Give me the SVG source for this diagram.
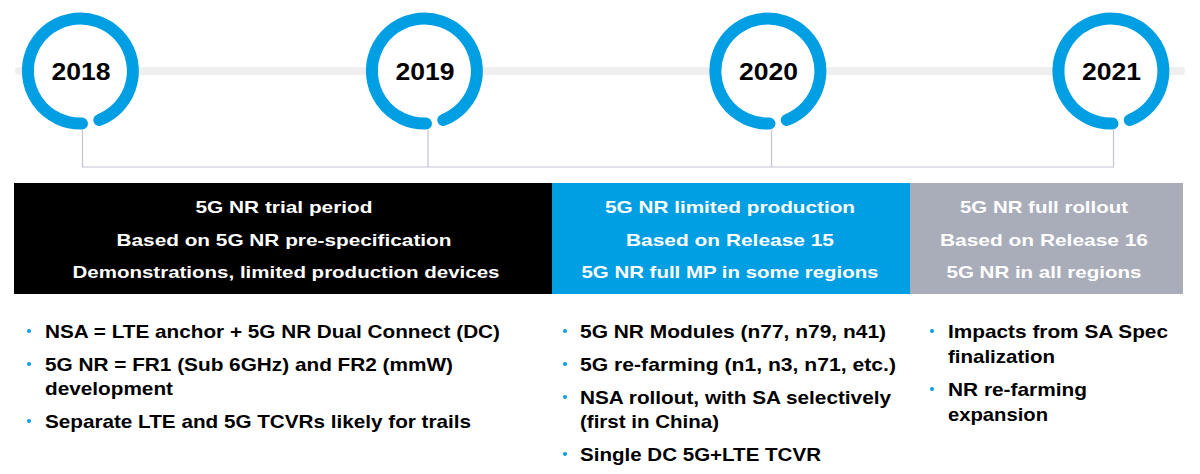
<svg xmlns="http://www.w3.org/2000/svg" xmlns:xlink="http://www.w3.org/1999/xlink" width="1200" height="474" viewBox="0 0 1200 474">
<style>
.ring{fill:none;stroke:#009FE3;stroke-width:12;stroke-linecap:round}
.year{font-family:"Liberation Sans",Arial,sans-serif;font-weight:bold;font-size:24px;fill:#000;text-anchor:middle}
.conn{fill:none;stroke:#C4C4D4;stroke-width:1.2}
.hdr{font-family:"Liberation Sans",Arial,sans-serif;font-weight:bold;font-size:17px;fill:#fff;text-anchor:middle}
.bt{font-family:"Liberation Sans",Arial,sans-serif;font-weight:bold;font-size:19px;fill:#000}
.dot{fill:#009FE3}
</style>
<defs>
<path id="ringp" class="ring" d="M 18.8 49 A 52.5 52.5 0 1 0 1.5 52.5"/>
</defs>
<rect x="15" y="67" width="1170" height="8" rx="4" fill="#EFEFEF"/>
<g id="connectors">
<path class="conn" d="M82.5 130 V167 H1113.5 V130"/>
<path class="conn" d="M428 130 V167"/>
<path class="conn" d="M771.5 130 V167"/>
</g>
<g id="y2018"><circle cx="80.5" cy="71" r="52" fill="#fff"/><use xlink:href="#ringp" x="80.5" y="71"/><text class="year" x="81" y="80" textLength="59" lengthAdjust="spacingAndGlyphs">2018</text></g>
<g id="y2019"><circle cx="424.5" cy="71" r="52" fill="#fff"/><use xlink:href="#ringp" x="424.5" y="71"/><text class="year" x="425" y="80" textLength="59" lengthAdjust="spacingAndGlyphs">2019</text></g>
<g id="y2020"><circle cx="768" cy="71" r="52" fill="#fff"/><use xlink:href="#ringp" x="768" y="71"/><text class="year" x="768.5" y="80" textLength="59" lengthAdjust="spacingAndGlyphs">2020</text></g>
<g id="y2021"><circle cx="1111" cy="71" r="52" fill="#fff"/><use xlink:href="#ringp" x="1111" y="71"/><text class="year" x="1111.5" y="80" textLength="59" lengthAdjust="spacingAndGlyphs">2021</text></g>
<g id="phase1">
<rect x="14" y="183" width="538" height="111" fill="#000"/>
<text class="hdr" x="284" y="213" textLength="177" lengthAdjust="spacingAndGlyphs">5G NR trial period</text>
<text class="hdr" x="284" y="246" textLength="335" lengthAdjust="spacingAndGlyphs">Based on 5G NR pre-specification</text>
<text class="hdr" x="286" y="278" textLength="427" lengthAdjust="spacingAndGlyphs">Demonstrations, limited production devices</text>
</g>
<g id="phase2">
<rect x="552" y="183" width="358" height="111" fill="#009FE3"/>
<text class="hdr" x="730" y="213" textLength="250" lengthAdjust="spacingAndGlyphs">5G NR limited production</text>
<text class="hdr" x="730" y="246" textLength="208" lengthAdjust="spacingAndGlyphs">Based on Release 15</text>
<text class="hdr" x="730" y="278" textLength="297" lengthAdjust="spacingAndGlyphs">5G NR full MP in some regions</text>
</g>
<g id="phase3">
<rect x="910" y="183" width="273" height="111" fill="#A9ADBA"/>
<text class="hdr" x="1044" y="213" textLength="168" lengthAdjust="spacingAndGlyphs">5G NR full rollout</text>
<text class="hdr" x="1044" y="246" textLength="208" lengthAdjust="spacingAndGlyphs">Based on Release 16</text>
<text class="hdr" x="1044" y="278" textLength="195" lengthAdjust="spacingAndGlyphs">5G NR in all regions</text>
</g>
<g id="list1">
<circle class="dot" cx="29" cy="331" r="2"/><text class="bt" x="45" y="338" textLength="455" lengthAdjust="spacingAndGlyphs">NSA = LTE anchor + 5G NR Dual Connect (DC)</text>
<circle class="dot" cx="29" cy="364" r="2"/><text class="bt" x="45" y="371" textLength="408" lengthAdjust="spacingAndGlyphs">5G NR = FR1 (Sub 6GHz) and FR2 (mmW)</text>
<text class="bt" x="45" y="395" textLength="128" lengthAdjust="spacingAndGlyphs">development</text>
<circle class="dot" cx="29" cy="421" r="2"/><text class="bt" x="45" y="428" textLength="426" lengthAdjust="spacingAndGlyphs">Separate LTE and 5G TCVRs likely for trails</text>
</g>
<g id="list2">
<circle class="dot" cx="565" cy="331" r="2"/><text class="bt" x="580" y="338" textLength="306" lengthAdjust="spacingAndGlyphs">5G NR Modules (n77, n79, n41)</text>
<circle class="dot" cx="565" cy="364" r="2"/><text class="bt" x="580" y="371" textLength="316" lengthAdjust="spacingAndGlyphs">5G re-farming (n1, n3, n71, etc.)</text>
<circle class="dot" cx="565" cy="397" r="2"/><text class="bt" x="580" y="404" textLength="311" lengthAdjust="spacingAndGlyphs">NSA rollout, with SA selectively</text>
<text class="bt" x="580" y="428" textLength="139" lengthAdjust="spacingAndGlyphs">(first in China)</text>
<circle class="dot" cx="565" cy="454" r="2"/><text class="bt" x="580" y="461" textLength="241" lengthAdjust="spacingAndGlyphs">Single DC 5G+LTE TCVR</text>
</g>
<g id="list3">
<circle class="dot" cx="932" cy="331" r="2"/><text class="bt" x="948" y="338" textLength="220" lengthAdjust="spacingAndGlyphs">Impacts from SA Spec</text>
<text class="bt" x="948" y="363" textLength="107" lengthAdjust="spacingAndGlyphs">finalization</text>
<circle class="dot" cx="932" cy="389" r="2"/><text class="bt" x="948" y="396" textLength="139" lengthAdjust="spacingAndGlyphs">NR re-farming</text>
<text class="bt" x="948" y="421" textLength="100" lengthAdjust="spacingAndGlyphs">expansion</text>
</g>
</svg>
